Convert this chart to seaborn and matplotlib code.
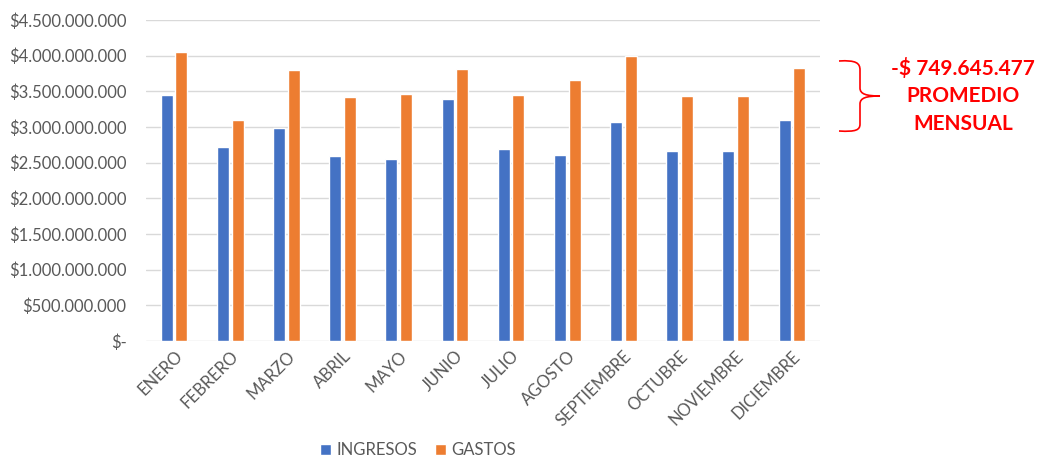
import pandas as pd
import matplotlib
matplotlib.use('Agg')
import matplotlib.pyplot as plt
from matplotlib.path import Path
from matplotlib.patches import PathPatch
from matplotlib.ticker import FuncFormatter
import seaborn as sns

# monthly values
meses = ['ENERO', 'FEBRERO', 'MARZO', 'ABRIL', 'MAYO', 'JUNIO', 'JULIO',
         'AGOSTO', 'SEPTIEMBRE', 'OCTUBRE', 'NOVIEMBRE', 'DICIEMBRE']
ingresos = [3449000000, 2715000000, 2986000000, 2589000000, 2556000000, 3388000000,
            2687000000, 2603000000, 3070000000, 2659000000, 2659000000, 3098000000]
gastos = [4051000000, 3098000000, 3795000000, 3425000000, 3467000000, 3809000000,
          3453000000, 3654000000, 3995000000, 3439000000, 3439000000, 3823000000]
y_ticks = [0, 500000000, 1000000000, 1500000000, 2000000000, 2500000000,
           3000000000, 3500000000, 4000000000, 4500000000]
nota = '-$ 749.645.477\nPROMEDIO\nMENSUAL'

# long table for seaborn
tabla = pd.DataFrame({'mes': meses * 2,
                      'valor': ingresos + gastos,
                      'tipo': ['INGRESOS'] * 12 + ['GASTOS'] * 12})

sns.set_style('white')
plt.rcParams['font.family'] = ['Lato', 'DejaVu Sans']

fig = plt.figure(figsize=(10.39, 4.61), dpi=100)
ax = fig.add_axes([146 / 1039, 1 - 341 / 461, (820 - 146) / 1039, (341 - 20) / 461])

sns.barplot(data=tabla, x='mes', y='valor', hue='tipo', ax=ax,
            palette={'INGRESOS': '#4472C4', 'GASTOS': '#ED7D31'},
            width=0.52, gap=0.18, saturation=1, legend=True)

# axis look like the excel chart
ax.set_ylim(0, 4500000000)
ax.set_yticks(y_ticks)
ax.yaxis.set_major_formatter(FuncFormatter(
    lambda v, p: '$-' if v == 0 else '$' + format(int(v), ',').replace(',', '.')))
ax.grid(axis='y', color='#d9d9d9', linewidth=1)
ax.set_axisbelow(True)
for s in ax.spines.values():
    s.set_visible(False)
ax.set_xlabel('')
ax.set_ylabel('')
ax.tick_params(axis='both', length=0, colors='#595959', labelsize=12)
ax.tick_params(axis='y', pad=14)
ax.tick_params(axis='x', pad=5)
plt.setp(ax.get_xticklabels(), rotation=45, ha='right', rotation_mode='anchor')

# legend under the chart
ax.legend(loc='center', bbox_to_anchor=(418 / 1039, 1 - 450 / 461),
          bbox_transform=fig.transFigure, ncol=2, frameon=False,
          fontsize=12, labelcolor='#595959', handlelength=0.65, handleheight=0.65,
          handletextpad=0.3, columnspacing=1.1)

# red bracket and average difference note
def px(x, y):
    return (x / 1039, 1 - y / 461)

verts = [px(839, 61), px(856, 60), px(860, 63), px(860, 70),
         px(860, 88), px(860, 94), px(866, 96), px(880, 96),
         px(866, 96), px(860, 98), px(860, 104),
         px(860, 124), px(860, 130), px(856, 132), px(839, 131)]
codes = [Path.MOVETO, Path.CURVE4, Path.CURVE4, Path.CURVE4,
         Path.LINETO, Path.CURVE4, Path.CURVE4, Path.CURVE4,
         Path.CURVE4, Path.CURVE4, Path.CURVE4,
         Path.LINETO, Path.CURVE4, Path.CURVE4, Path.CURVE4]
fig.patches.append(PathPatch(Path(verts, codes), transform=fig.transFigure,
                             facecolor='none', edgecolor='#FF0000', linewidth=1.2))

fig.text(963 / 1039, 1 - 96 / 461, nota, ha='center', va='center', color='#FF0000',
         fontsize=15, fontweight='bold', linespacing=1.5)

plt.savefig('out.png', dpi=100)
